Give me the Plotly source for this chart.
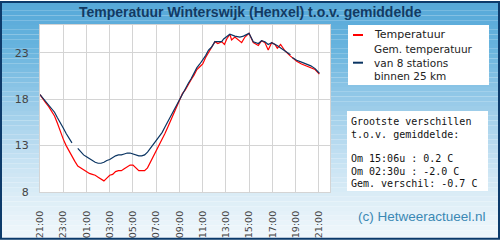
import plotly.graph_objects as go
from datetime import datetime, timedelta

# ---------------- data ----------------
grid_times = [
    "21:00", "21:15", "21:30", "21:45", "22:00", "22:15", "22:30", "22:45",
    "23:00", "23:15", "23:30", "23:45", "00:00", "00:15", "00:30", "00:45",
    "01:00", "01:15", "01:30", "01:45", "02:00", "02:15", "02:30", "02:45",
    "03:00", "03:15", "03:30", "03:45", "04:00", "04:15", "04:30", "04:45",
    "05:00", "05:15", "05:30", "05:45", "06:00", "06:15", "06:30", "06:45",
    "07:00", "07:15", "07:30", "07:45", "08:00", "08:15", "08:30", "08:45",
    "09:00", "09:15", "09:30", "09:45", "10:00", "10:15", "10:30", "10:45",
    "11:00", "11:15", "11:30", "11:45",
]

temp_times = grid_times + [
    "12:03", "12:18", "12:38", "12:52", "13:04", "13:20", "13:29", "13:46",
    "14:04", "14:21", "14:38", "14:59", "15:21", "15:47", "16:04", "16:21",
    "16:38", "16:56", "17:13", "17:25", "17:42", "18:05", "18:30", "19:05",
    "19:30", "19:56", "20:18", "20:40", "21:02",
]
temperatuur = [
    18.5, 18.0, 17.6, 17.2, 16.7, 16.2, 15.4, 14.5,
    13.7, 13.0, 12.4, 11.8, 11.3, 10.8, 10.6, 10.4,
    10.2, 10.0, 9.9, 9.8, 9.6, 9.4, 9.2, 9.5,
    9.8, 9.9, 10.2, 10.3, 10.3, 10.5, 10.7, 10.9,
    10.9, 10.6, 10.3, 10.3, 10.3, 10.6, 11.2, 11.8,
    12.4, 13.0, 13.6, 14.3, 15.0, 15.7, 16.6, 17.3,
    17.9, 18.6, 19.0, 19.6, 20.1, 20.6, 21.2, 21.5,
    21.8, 22.5, 23.0, 23.6,
    24.2, 24.0, 24.2, 23.9, 24.5, 25.0, 24.4, 24.7,
    24.4, 24.1, 24.7, 25.1, 24.1, 23.8, 24.3, 24.1,
    23.3, 24.1, 23.9, 23.5, 23.9, 23.2, 22.7, 22.1,
    21.8, 21.6, 21.4, 21.2, 20.7,
]

gem_times = grid_times + [
    "12:03", "12:18", "12:38", "12:48", "13:04", "13:20", "13:46", "14:12",
    "14:30", "14:59", "15:21", "15:47", "16:04", "16:21", "16:38", "16:56",
    "17:24", "17:54", "18:18", "18:33", "18:36", "18:42", "19:05", "19:30",
    "19:56", "20:18", "20:40", "21:02",
]
gem_temperatuur = [
    18.5, 18.1, 17.7, 17.3, 17.0, 16.6, 16.0, 15.5,
    14.9, 14.3, 13.8, 13.3, None, 12.7, 12.3, 12.0,
    11.8, 11.6, 11.4, 11.2, 11.1, 11.1, 11.2, 11.4,
    11.5, 11.7, 11.9, 12.0, 12.0, 12.1, 12.2, 12.2,
    12.1, 12.0, 11.9, 11.9, 12.0, 12.3, 12.7, 13.1,
    13.6, 14.0, 14.4, 15.0, 15.6, 16.2, 16.8, 17.4,
    18.0, 18.6, 19.2, 19.7, 20.2, 20.8, 21.4, 21.8,
    22.2, 22.7, 23.3, 23.6,
    24.2, 24.2, 24.2, 24.5, 24.8, 25.0, 24.8, 24.7,
    24.8, 25.1, 24.2, 24.0, 24.3, 24.2, 23.9, 24.1,
    23.8, 23.4, 23.0, 22.8, None, 22.5, 22.2, 22.0,
    21.8, 21.6, 21.3, 20.8,
]

y_ticks = [8, 13, 18, 23]

title_text = "Temperatuur Winterswijk (Henxel) t.o.v. gemiddelde"
legend_temp = "Temperatuur"
legend_gem = ["Gem. temperatuur", "van 8 stations", "binnen 25 km"]
info_lines = [
    "Grootste verschillen",
    "t.o.v. gemiddelde:",
    "Om 15:06u : 0.2 C",
    "Om 02:30u : -2.0 C",
    "Gem. verschil: -0.7 C",
]
copyright_text = "(c) Hetweeractueel.nl"

# ---------------- helpers ----------------
W, H = 500, 250
L, R, T, B = 40, 330, 25, 200


def px_x(px):
    return (px - L) / (R - L)


def px_y(py):
    return (B - py) / (B - T)


def to_dt(times, start="2024-07-01"):
    base = datetime.fromisoformat(start)
    out, day, prev = [], 0, None
    for t in times:
        hh, mm = map(int, t.split(":"))
        m = hh * 60 + mm
        if prev is not None and m < prev:
            day += 1
        prev = m
        out.append(base + timedelta(days=day, minutes=m))
    return out


RED = "#ff0000"
NAVY = "#0a3462"

fig = go.Figure()
fig.add_trace(go.Scatter(x=to_dt(temp_times), y=temperatuur, mode="lines",
                         line=dict(color=RED, width=1.2), name="Temperatuur",
                         connectgaps=False))
fig.add_trace(go.Scatter(x=to_dt(gem_times), y=gem_temperatuur, mode="lines",
                         line=dict(color=NAVY, width=1.2),
                         name="Gem. temperatuur", connectgaps=False))

shapes = []
# background gradient stripes
stops = [(0, (86, 168, 216)), (50, (104, 180, 222)), (110, (155, 204, 233)),
         (170, (200, 227, 243)), (210, (222, 238, 247)), (250, (242, 248, 252))]


def col_at(py):
    for (y0, c0), (y1, c1) in zip(stops[:-1], stops[1:]):
        if y0 <= py <= y1:
            f = (py - y0) / (y1 - y0)
            return "rgb(%d,%d,%d)" % tuple(round(a + (b - a) * f) for a, b in zip(c0, c1))
    return "rgb(%d,%d,%d)" % stops[-1][1]


step = 5
for py in range(0, H, step):
    shapes.append(dict(type="rect", xref="paper", yref="paper", layer="below",
                       x0=px_x(0), x1=px_x(W), y0=px_y(py + step), y1=px_y(py),
                       fillcolor=col_at(py + step / 2), line=dict(width=0)))
# plot area white
shapes.append(dict(type="rect", xref="paper", yref="paper", layer="below",
                   x0=0, x1=1, y0=0, y1=1, fillcolor="white", line=dict(width=0)))
# legend box
shapes.append(dict(type="rect", xref="paper", yref="paper", layer="below",
                   x0=px_x(348), x1=px_x(489), y0=px_y(88), y1=px_y(25),
                   fillcolor="white", line=dict(width=0)))
shapes.append(dict(type="line", xref="paper", yref="paper",
                   x0=px_x(353), x1=px_x(363), y0=px_y(35.5), y1=px_y(35.5),
                   line=dict(color=RED, width=2)))
shapes.append(dict(type="line", xref="paper", yref="paper",
                   x0=px_x(353), x1=px_x(363), y0=px_y(64.5), y1=px_y(64.5),
                   line=dict(color=NAVY, width=2)))
# info box
shapes.append(dict(type="rect", xref="paper", yref="paper", layer="below",
                   x0=px_x(347), x1=px_x(488), y0=px_y(199), y1=px_y(115),
                   fillcolor="white", line=dict(width=0)))
# outer border
shapes.append(dict(type="rect", xref="paper", yref="paper", layer="above",
                   x0=px_x(1), x1=px_x(W - 1), y0=px_y(H - 1), y1=px_y(1),
                   line=dict(color="#0d3b6b", width=2)))

ann = []
ann.append(dict(text="<b>" + title_text + "</b>", x=px_x(250), y=px_y(11),
                xref="paper", yref="paper", showarrow=False, xanchor="center",
                yanchor="middle",
                font=dict(family="Liberation Sans, Arial", size=14, color="#123a63")))
ann.append(dict(text=legend_temp, x=px_x(372), y=px_y(35), xref="paper", yref="paper",
                showarrow=False, xanchor="left", yanchor="middle",
                font=dict(family="DejaVu Sans", size=11, color="#222222")))
ann.append(dict(text="<br>".join(legend_gem), x=px_x(372), y=px_y(64.8),
                xref="paper", yref="paper", showarrow=False, xanchor="left",
                yanchor="middle", align="left",
                font=dict(family="DejaVu Sans", size=10.5, color="#222222")))
info_y = [126.5, 139.5, 165, 178, 191]
for txt, yy in zip(info_lines, info_y):
    ann.append(dict(text=txt, x=px_x(348.5), y=px_y(yy), xref="paper", yref="paper",
                    showarrow=False, xanchor="left", yanchor="middle",
                    font=dict(family="DejaVu Sans Mono", size=10, color="#111111")))
ann.append(dict(text=copyright_text, x=px_x(488), y=px_y(226), xref="paper", yref="paper",
                showarrow=False, xanchor="right", yanchor="middle",
                font=dict(family="Liberation Sans, Arial", size=13.5, color="#3a88b4")))

fig.update_layout(
    width=W, height=H,
    margin=dict(l=L, r=W - R, t=T, b=H - B, pad=0),
    paper_bgcolor="white", plot_bgcolor="rgba(0,0,0,0)",
    showlegend=False,
    shapes=shapes, annotations=ann,
    xaxis=dict(type="date",
               range=[datetime(2024, 7, 1, 21, 0), datetime(2024, 7, 2, 21, 57)],
               tick0=datetime(2024, 7, 1, 21, 0), dtick=2 * 3600 * 1000,
               tickformat="%H:%M", tickangle=-90,
               showgrid=True, gridcolor="#d4d4d4", gridwidth=1,
               showline=True, linecolor="#d4d4d4", mirror=True,
               ticks="", ticklabelstandoff=14, zeroline=False,
               tickfont=dict(family="DejaVu Sans", size=9.5, color="#444444")),
    yaxis=dict(range=[8, 26], tickvals=y_ticks, ticktext=[str(v) for v in y_ticks],
               showgrid=True, gridcolor="#d4d4d4", gridwidth=1,
               showline=True, linecolor="#d4d4d4", mirror=True,
               ticks="", ticklabelstandoff=8, zeroline=False,
               tickfont=dict(family="DejaVu Sans", size=11, color="#444444")),
)

fig.write_html("out.html")
